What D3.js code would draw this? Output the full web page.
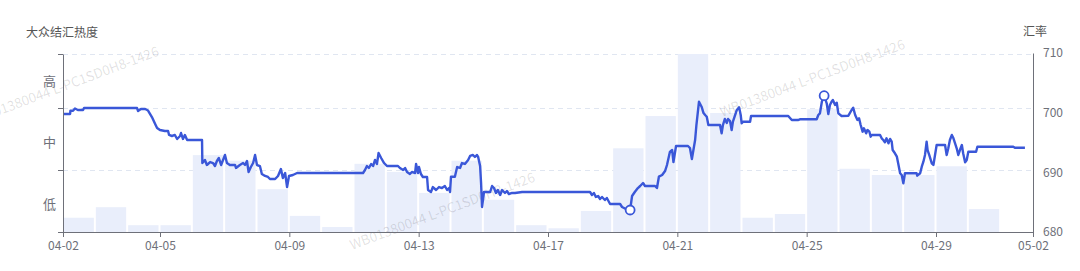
<!DOCTYPE html>
<html>
<head>
  <meta charset="utf-8">
  <script src="https://d3js.org/d3.v7.min.js"></script>
  <style>
    body { margin: 0; background: #fff; }
    text { font-family: "Noto Sans CJK SC", "Noto Sans", sans-serif; }
  </style>
</head>
<body>
  <svg id="chart" width="1080" height="271"></svg>

  <script>
    // Datos:热度 diario (barras) y 汇率 (línea)
    const startDay = "2022-04-02";
    const endDay = "2022-05-02";
    const heatValues = [0.23, 0.40, 0.11, 0.11, 1.24, 1.15, 0.69, 0.26, 0.08, 1.10,
      0.97, 0.63, 1.15, 0.52, 0.11, 0.06, 0.34, 1.35, 1.87, 3.0,
      1.92, 0.23, 0.29, 1.98, 1.02, 0.92, 0.92, 1.06, 0.37];
    const heatLabels = ["低", "中", "高"];
    const heatLabelAt = [0.44, 1.44, 2.5];
    const heatTicks = [0, 1, 2, 3];
    const rateTicks = [680, 690, 700, 710];
    const xTickLabels = ["04-02", "04-05", "04-09", "04-13", "04-17", "04-21", "04-25", "04-29", "05-02"];

    // días desde 04-02 y valor del 汇率
    const rateDay = [0.01, 0.22, 0.23, 0.31, 0.37, 0.46, 0.62, 0.65, 2.29, 2.32, 2.41, 2.54, 2.63, 2.75, 2.85, 2.91,
      3.00, 3.15, 3.25, 3.28, 3.37, 3.46, 3.53, 3.62, 3.65, 3.71, 3.77, 3.84, 4.30, 4.31, 4.39, 4.45, 4.55, 4.64,
      4.70, 4.76, 4.82, 4.89, 4.95, 5.01, 5.07, 5.16, 5.32, 5.35, 5.47, 5.57, 5.63, 5.69, 5.74, 5.81, 5.88, 5.94,
      6.00, 6.09, 6.15, 6.25, 6.34, 6.40, 6.56, 6.65, 6.74, 6.80, 6.87, 6.93, 6.99, 7.11, 7.24, 9.28, 9.34, 9.40,
      9.46, 9.53, 9.59, 9.65, 9.71, 9.76, 9.84, 9.93, 10.02, 10.36, 10.42, 10.52, 10.58, 10.64, 10.73, 10.79, 10.89,
      10.92, 10.98, 11.01, 11.07, 11.13, 11.26, 11.29, 11.38, 11.44, 11.54, 11.63, 11.72, 11.81, 11.88, 11.94, 11.97,
      12.00, 12.12, 12.19, 12.28, 12.34, 12.43, 12.53, 12.59, 12.68, 12.74, 12.80, 12.84, 12.90, 12.93, 12.96, 13.02,
      13.21, 13.27, 13.33, 13.39, 13.45, 13.52, 13.58, 13.67, 13.73, 13.79, 13.89, 13.98, 14.20, 16.30, 16.36, 16.42,
      16.48, 16.55, 16.61, 16.67, 16.76, 16.82, 16.92, 17.23, 17.29, 17.41, 17.54, 17.60, 17.69, 17.78, 17.85, 17.94,
      18.00, 18.31, 18.37, 18.43, 18.53, 18.62, 18.68, 18.77, 18.84, 18.88, 18.96, 19.33, 19.39, 19.45, 19.55, 19.59,
      19.67, 19.75, 19.81, 19.86, 19.91, 19.96, 20.32, 20.37, 20.41, 20.47, 20.53, 20.57, 20.63, 20.68, 20.72, 20.84,
      20.91, 20.96, 20.99, 21.03, 21.25, 21.28, 22.43, 22.54, 22.73, 22.79, 23.31, 23.36, 23.41, 23.47, 23.54, 23.62,
      23.67, 23.72, 23.77, 23.81, 23.88, 23.93, 23.98, 24.08, 24.29, 24.39, 24.44, 24.50, 24.57, 24.62, 24.67, 24.73,
      24.77, 24.84, 24.88, 24.94, 24.98, 25.01, 25.27, 25.32, 25.37, 25.42, 25.47, 25.53, 25.58, 25.63, 25.66, 25.73,
      25.79, 25.83, 25.89, 25.94, 25.99, 26.04, 26.40, 26.42, 26.51, 26.56, 26.61, 26.66, 26.71, 26.74, 26.79, 26.87,
      26.92, 26.97, 27.02, 27.28, 27.33, 27.38, 27.43, 27.49, 27.54, 27.59, 27.64, 27.69, 27.74, 27.80, 27.84, 27.90,
      27.95, 28.00, 28.24, 28.28, 29.39, 29.44, 29.75];
    const rateVal = [699.78, 699.78, 700.33, 700.33, 700.70, 700.45, 700.45, 700.78, 700.78, 700.28, 700.61, 700.61,
      700.36, 699.27, 698.10, 697.43, 697.09, 696.93, 696.93, 696.26, 696.09, 696.26, 695.59, 696.09, 696.59, 695.59,
      696.26, 695.42, 695.42, 691.56, 692.07, 691.23, 691.73, 691.56, 691.06, 691.90, 692.40, 691.23, 692.07, 692.91,
      691.56, 691.23, 691.23, 690.73, 691.23, 691.56, 691.23, 691.90, 690.06, 690.89, 691.56, 692.91, 691.23, 691.06,
      689.72, 689.39, 689.22, 688.88, 688.88, 689.39, 690.56, 689.05, 689.89, 687.54, 689.39, 689.55, 689.89, 689.89,
      690.39, 691.06, 690.73, 691.40, 691.06, 692.07, 691.40, 693.24, 692.40, 691.56, 691.06, 691.06, 690.73, 690.39,
      690.73, 690.06, 689.72, 690.06, 689.89, 691.40, 689.89, 690.89, 689.72, 689.22, 689.22, 687.04, 686.70, 687.54,
      687.04, 687.54, 687.37, 687.71, 687.04, 687.37, 686.70, 689.27, 689.27, 690.89, 690.73, 691.56, 691.40, 692.07,
      692.74, 692.91, 692.57, 692.91, 692.57, 691.06, 688.21, 684.19, 686.70, 686.70, 687.71, 687.37, 686.54, 687.04,
      686.20, 687.04, 686.54, 686.87, 686.37, 686.54, 686.54, 686.70, 686.70, 686.20, 686.54, 685.87, 686.03, 685.53,
      685.87, 685.36, 685.70, 684.69, 684.69, 684.19, 683.85, 683.69, 686.03, 686.75, 687.37, 687.71, 688.21, 687.71,
      687.71, 687.37, 689.27, 689.55, 690.22, 691.23, 693.41, 693.74, 691.73, 694.41, 694.41, 694.08, 692.23, 695.42,
      697.93, 701.84, 701.00, 699.94, 699.61, 699.32, 697.93, 697.93, 696.54, 697.93, 698.94, 698.27, 698.94, 698.60,
      697.09, 698.49, 700.45, 700.90, 699.61, 698.22, 698.49, 698.49, 699.44, 699.44, 698.77, 698.77, 698.89, 698.89,
      699.61, 699.89, 701.84, 702.84, 701.57, 699.78, 701.28, 701.84, 702.12, 701.28, 701.67, 699.89, 699.44, 699.49,
      700.45, 700.83, 699.61, 698.77, 699.06, 697.93, 696.81, 697.38, 696.54, 697.09, 696.81, 695.97, 696.26, 696.26,
      695.70, 695.42, 695.03, 695.70, 694.87, 695.59, 695.13, 693.74, 693.19, 692.62, 691.51, 689.84, 689.55, 688.16,
      689.84, 689.84, 689.44, 689.84, 690.95, 691.78, 692.91, 695.13, 693.74, 692.91, 691.51, 691.23, 692.91, 694.58,
      694.58, 692.91, 694.03, 695.42, 696.26, 695.70, 694.87, 694.03, 692.91, 693.74, 694.58, 693.19, 691.68, 692.07,
      693.46, 693.46, 694.30, 694.30, 694.13, 694.13];

    const width = 1080;
    const height = 271;
    const margin = { top: 54, right: 47, bottom: 39, left: 63 };
    const svg = d3.select("#chart");
    const axisColor = "#6e7079";

    const dayMs = 24 * 3600 * 1000;
    const t0 = new Date(startDay + "T00:00:00");
    const parse = d3.timeParse("%Y-%m-%d");

    // Escalas
    const x = d3.scaleTime()
      .domain([t0, parse(endDay)])
      .range([margin.left, width - margin.right]);
    const heatY = d3.scaleLinear()
      .domain(heatTicks)
      .range([232, 170, 108, 54]);
    const rateY = d3.scaleLinear()
      .domain([680, 710])
      .range([height - margin.bottom, margin.top - 1]);

    // Líneas de cuadrícula
    svg.append("g")
      .selectAll("line")
      .data(heatTicks.slice(1))
      .enter()
      .append("line")
      .attr("x1", margin.left)
      .attr("x2", width - margin.right)
      .attr("y1", (d) => heatY(d) + 0.5)
      .attr("y2", (d) => heatY(d) + 0.5)
      .attr("stroke", "#e0e6f1")
      .attr("stroke-dasharray", "5,4");

    // Barras de 热度
    const dayW = x(new Date(t0.getTime() + dayMs)) - x(t0);
    svg.append("g")
      .selectAll("rect")
      .data(heatValues)
      .enter()
      .append("rect")
      .attr("x", (d, i) => x(new Date(t0.getTime() + i * dayMs)) + 0.5)
      .attr("y", (d) => heatY(d))
      .attr("width", dayW - 2)
      .attr("height", (d) => heatY(0) - heatY(d))
      .attr("fill", "#e9eefb");

    // Marca de agua
    const wm = "WB01380044 L-PC1SD0H8-1426";
    [[-24, 124], [352, 250], [722, 117]].forEach(([wx, wy]) => {
      svg.append("text")
        .attr("transform", `translate(${wx},${wy}) rotate(-20.5)`)
        .attr("font-size", 13.5)
        .attr("fill", "#000")
        .attr("fill-opacity", 0.12)
        .text(wm);
    });

    // Línea de 汇率
    const points = rateDay.map((d, i) => [new Date(t0.getTime() + d * dayMs), rateVal[i]]);
    const line = d3.line()
      .x((d) => x(d[0]))
      .y((d) => rateY(d[1]));
    svg.append("path")
      .datum(points)
      .attr("fill", "none")
      .attr("stroke", "#3a57d8")
      .attr("stroke-width", 2.4)
      .attr("stroke-linejoin", "round")
      .attr("d", line);

    // Máximo y mínimo
    [d3.maxIndex(rateVal), d3.minIndex(rateVal)].forEach((i) => {
      svg.append("circle")
        .attr("cx", x(points[i][0]))
        .attr("cy", rateY(points[i][1]))
        .attr("r", 4.5)
        .attr("fill", "#fff")
        .attr("stroke", "#3a57d8")
        .attr("stroke-width", 1.8);
    });

    // Eje x
    const xAxis = d3.axisBottom(x)
      .tickValues(xTickLabels.map((s) => parse("2022-" + s)))
      .tickFormat(d3.timeFormat("%m-%d"))
      .tickSize(5)
      .tickSizeOuter(0)
      .tickPadding(4);
    const gx = svg.append("g")
      .attr("transform", `translate(0,${heatY(0)})`)
      .call(xAxis);

    // Eje izquierdo (热度)
    const gl = svg.append("g")
      .attr("transform", `translate(${margin.left},0)`)
      .call(d3.axisLeft(heatY).tickValues(heatTicks).tickFormat("").tickSize(5).tickSizeOuter(0));
    svg.append("g")
      .selectAll("text")
      .data(heatLabels)
      .enter()
      .append("text")
      .attr("x", 56)
      .attr("y", (d, i) => heatY(heatLabelAt[i]))
      .attr("dy", "0.35em")
      .attr("text-anchor", "end")
      .attr("font-size", 13)
      .attr("fill", axisColor)
      .text((d) => d);

    // Eje derecho (汇率)
    const gr = svg.append("g")
      .attr("transform", `translate(${width - margin.right},0)`)
      .call(d3.axisRight(rateY).tickValues(rateTicks).tickSize(0).tickSizeOuter(0).tickPadding(10));

    [gx, gl, gr].forEach((g) => {
      g.selectAll("path, line").attr("stroke", axisColor);
      g.selectAll("text")
        .attr("fill", axisColor)
        .attr("font-size", 12)
        .style("font-family", "'Noto Sans CJK SC', 'Noto Sans', sans-serif");
    });

    // Títulos de los ejes
    svg.append("text")
      .attr("x", 26)
      .attr("y", 33)
      .attr("dy", "0.35em")
      .attr("font-size", 12)
      .attr("fill", "#555")
      .text("大众结汇热度");
    svg.append("text")
      .attr("x", 1047)
      .attr("y", 32)
      .attr("dy", "0.35em")
      .attr("text-anchor", "end")
      .attr("font-size", 12)
      .attr("fill", "#555")
      .text("汇率");
  </script>
</body>
</html>
